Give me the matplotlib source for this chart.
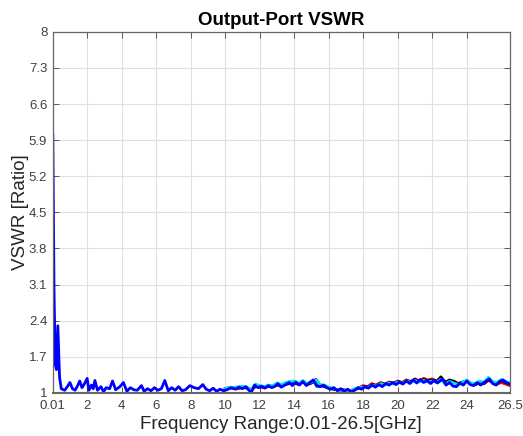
import numpy as np
import matplotlib
matplotlib.use('Agg')
import matplotlib.pyplot as plt

plt.rcParams['font.family'] = ['Liberation Sans', 'DejaVu Sans']

# Blue trace (fine grid, GHz)
freq_blue = [0.01, 0.08, 0.15, 0.22, 0.3, 0.4, 0.5, 0.7, 0.85, 1.0,
             1.15, 1.3, 1.45, 1.57, 1.7, 1.85, 2.0, 2.1, 2.25, 2.35,
             2.45, 2.6, 2.8, 2.95, 3.1, 3.3, 3.47, 3.65, 3.9, 4.1,
             4.3, 4.5, 4.7, 4.9, 5.15, 5.3, 5.5, 5.7, 5.9, 6.1,
             6.3, 6.5, 6.7, 6.9, 7.1, 7.3, 7.5, 7.7, 7.95, 8.2,
             8.45, 8.7, 8.9, 9.1, 9.3, 9.5, 9.7, 9.9, 10.1, 10.35,
             10.6, 10.8, 11.0, 11.2, 11.5, 11.7, 11.9, 12.1, 12.3, 12.5,
             12.7, 12.9, 13.05, 13.25, 13.45, 13.7, 13.9, 14.1, 14.3, 14.5,
             14.7, 14.9, 15.1, 15.3, 15.5, 15.7, 15.9, 16.1, 16.3, 16.5,
             16.7, 16.9, 17.1, 17.3, 17.5, 17.7, 17.9, 18.1, 18.3, 18.5,
             18.7, 18.9, 19.1, 19.3, 19.5, 19.7, 19.9, 20.1, 20.3, 20.5,
             20.7, 20.9, 21.1, 21.3, 21.5, 21.7, 21.9, 22.1, 22.3, 22.6,
             22.8, 23.0, 23.2, 23.4, 23.6, 23.8, 24.0, 24.2, 24.4, 24.6,
             24.8, 25.0, 25.3, 25.5, 25.7, 25.9, 26.1, 26.3, 26.5]
vswr_blue = [6.0, 3.0, 1.55, 1.45, 2.3, 1.3, 1.08, 1.05, 1.12, 1.2,
             1.08, 1.05, 1.14, 1.23, 1.1, 1.18, 1.28, 1.05, 1.15, 1.08,
             1.24, 1.05, 1.12, 1.02, 1.1, 1.08, 1.23, 1.06, 1.12, 1.2,
             1.03, 1.1, 1.06, 1.05, 1.14, 1.03, 1.08, 1.04, 1.1, 1.05,
             1.08, 1.24, 1.04, 1.1, 1.05, 1.12, 1.04, 1.06, 1.14, 1.1,
             1.08, 1.16, 1.07, 1.04, 1.09, 1.03, 1.07, 1.04, 1.06, 1.1,
             1.07, 1.11, 1.08, 1.12, 1.0, 1.15, 1.1, 1.13, 1.09, 1.14,
             1.1, 1.13, 1.18, 1.11, 1.15, 1.2, 1.14, 1.21, 1.15, 1.22,
             1.14, 1.2, 1.25, 1.13, 1.12, 1.15, 1.1, 1.07, 1.1, 1.04,
             1.08, 1.03, 1.07, 1.02, 1.05, 1.1, 1.07, 1.12, 1.09, 1.15,
             1.11, 1.16, 1.12, 1.18, 1.15, 1.2, 1.16, 1.21, 1.17, 1.23,
             1.18, 1.25, 1.19, 1.26, 1.2, 1.24, 1.18, 1.24, 1.19, 1.27,
             1.15, 1.2, 1.13, 1.12, 1.19, 1.15, 1.23, 1.16, 1.14, 1.2,
             1.15, 1.2, 1.27, 1.18, 1.15, 1.22, 1.25, 1.2, 1.17]

# Other traces (10-26.5 GHz, 0.25 GHz steps)
freq_other = [10.0, 10.25, 10.5, 10.75, 11.0, 11.25, 11.5, 11.75,
              12.0, 12.25, 12.5, 12.75, 13.0, 13.25, 13.5, 13.75,
              14.0, 14.25, 14.5, 14.75, 15.0, 15.25, 15.5, 15.75,
              16.0, 16.25, 16.5, 16.75, 17.0, 17.25, 17.5, 17.75,
              18.0, 18.25, 18.5, 18.75, 19.0, 19.25, 19.5, 19.75,
              20.0, 20.25, 20.5, 20.75, 21.0, 21.25, 21.5, 21.75,
              22.0, 22.25, 22.5, 22.75, 23.0, 23.25, 23.5, 23.75,
              24.0, 24.25, 24.5, 24.75, 25.0, 25.25, 25.5, 25.75,
              26.0, 26.25, 26.5]
vswr_red = [1.07, 1.09, 1.1, 1.08, 1.11, 1.09, 1.06, 1.12,
            1.12, 1.1, 1.13, 1.12, 1.15, 1.13, 1.16, 1.18,
            1.19, 1.16, 1.21, 1.17, 1.2, 1.22, 1.14, 1.13,
            1.09, 1.08, 1.06, 1.07, 1.05, 1.04, 1.07, 1.1,
            1.14, 1.12, 1.18, 1.15, 1.2, 1.17, 1.21, 1.19,
            1.23, 1.2, 1.25, 1.22, 1.27, 1.23, 1.28, 1.25,
            1.27, 1.23, 1.26, 1.22, 1.2, 1.23, 1.17, 1.2,
            1.22, 1.17, 1.16, 1.2, 1.18, 1.24, 1.2, 1.17,
            1.2, 1.17, 1.14]
vswr_black = [1.08, 1.1, 1.09, 1.1, 1.12, 1.1, 1.05, 1.13,
              1.11, 1.12, 1.12, 1.13, 1.16, 1.14, 1.17, 1.19,
              1.2, 1.17, 1.22, 1.16, 1.19, 1.26, 1.15, 1.12,
              1.1, 1.07, 1.06, 1.05, 1.05, 1.03, 1.06, 1.09,
              1.12, 1.11, 1.16, 1.14, 1.19, 1.16, 1.2, 1.18,
              1.22, 1.19, 1.24, 1.21, 1.26, 1.22, 1.26, 1.23,
              1.25, 1.22, 1.31, 1.2, 1.25, 1.22, 1.18, 1.21,
              1.23, 1.18, 1.16, 1.21, 1.18, 1.26, 1.21, 1.18,
              1.24, 1.2, 1.17]
vswr_cyan = [1.08, 1.11, 1.1, 1.12, 1.13, 1.11, 1.07, 1.17,
             1.14, 1.12, 1.15, 1.14, 1.19, 1.16, 1.2, 1.22,
             1.23, 1.18, 1.24, 1.18, 1.21, 1.25, 1.16, 1.15,
             1.11, 1.09, 1.06, 1.05, 1.04, 1.03, 1.08, 1.1,
             1.11, 1.1, 1.15, 1.13, 1.18, 1.15, 1.19, 1.17,
             1.21, 1.18, 1.23, 1.2, 1.24, 1.21, 1.24, 1.21,
             1.23, 1.2, 1.26, 1.17, 1.22, 1.19, 1.16, 1.2,
             1.25, 1.19, 1.18, 1.23, 1.2, 1.3, 1.22, 1.2,
             1.26, 1.22, 1.19]

xticks = [0.01, 2, 4, 6, 8, 10, 12, 14, 16, 18, 20, 22, 24, 26.5]
xtick_labels = ['0.01', '2', '4', '6', '8', '10', '12', '14', '16', '18',
                '20', '22', '24', '26.5']
yticks = [1, 1.7, 2.4, 3.1, 3.8, 4.5, 5.2, 5.9, 6.6, 7.3, 8]
ytick_labels = ['1', '1.7', '2.4', '3.1', '3.8', '4.5', '5.2', '5.9', '6.6', '7.3', '8']

fig = plt.figure(figsize=(5.23, 4.36), dpi=100)
ax = fig.add_axes([0.101, 0.099, 0.874, 0.828])

ax.plot(freq_other, vswr_red, color='red', lw=2)
ax.plot(freq_other, vswr_black, color='black', lw=2)
ax.plot(freq_other, vswr_cyan, color='#00e5ee', lw=2)
ax.plot(freq_blue, vswr_blue, color='#0000ff', lw=2)

ax.set_xlim(0.01, 26.5)
ax.set_ylim(1, 8)
ax.set_xticks(xticks)
ax.set_xticklabels(xtick_labels)
ax.set_yticks(yticks)
ax.set_yticklabels(ytick_labels)
ax.grid(True, color='#e0e0e0', lw=0.8)
ax.set_axisbelow(True)
ax.tick_params(direction='in', top=True, right=True, labelsize=9.5,
               colors='#404040', length=4, width=0.6)
ax.tick_params(axis='x', pad=5)
ax.tick_params(axis='y', pad=4)
for s in ax.spines.values():
    s.set_color('#666666')
    s.set_linewidth(0.9)
ax.spines['bottom'].set_linewidth(1.5)

ax.set_title('Output-Port VSWR', fontsize=13.5, fontweight='bold', pad=5)
ax.set_xlabel('Frequency Range:0.01-26.5[GHz]', fontsize=13.5, color='#262626', labelpad=3)
ax.set_ylabel('VSWR [Ratio]', fontsize=13.5, color='#262626', labelpad=0)

fig.savefig('out.png', dpi=100)
